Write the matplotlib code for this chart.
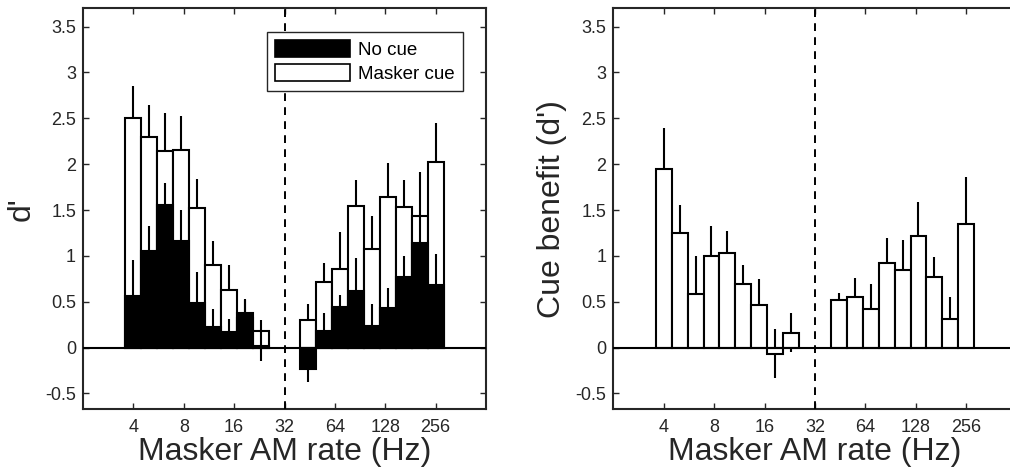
import matplotlib
matplotlib.use('Agg')
import matplotlib.pyplot as plt
import numpy as np
from matplotlib.patches import Patch
from matplotlib.ticker import FixedLocator, FixedFormatter, NullLocator

plt.rcParams['font.family'] = ['Liberation Sans', 'DejaVu Sans']

# ---- data ----
rates = [4.0, 4.98, 6.2, 7.71, 9.6, 11.95, 14.87, 18.51, 23.03,
         44.45, 55.3, 68.8, 85.7, 106.6, 132.7, 165.2, 205.7, 256.0]
cue_d = [2.50, 2.30, 2.14, 2.155, 1.52, 0.905, 0.625, 0.32, 0.18,
         0.30, 0.72, 0.86, 1.54, 1.07, 1.64, 1.53, 1.44, 2.02]
cue_err = [0.35, 0.34, 0.42, 0.37, 0.32, 0.26, 0.28, 0.20, 0.12,
           0.17, 0.20, 0.40, 0.29, 0.37, 0.37, 0.30, 0.47, 0.425]
nocue_d = [0.56, 1.05, 1.56, 1.16, 0.49, 0.225, 0.17, 0.377, 0.02,
           -0.23, 0.18, 0.44, 0.62, 0.236, 0.436, 0.774, 1.145, 0.68]
nocue_err = [0.39, 0.28, 0.23, 0.34, 0.33, 0.20, 0.145, 0.155, 0.166,
             0.145, 0.20, 0.13, 0.36, 0.24, 0.21, 0.225, 0.30, 0.345]
benefit = [1.95, 1.25, 0.585, 1.00, 1.03, 0.69, 0.465, -0.065, 0.164,
           0.516, 0.55, 0.425, 0.92, 0.85, 1.215, 0.77, 0.31, 1.345]
benefit_err = [0.44, 0.30, 0.415, 0.33, 0.24, 0.21, 0.28, 0.27, 0.21,
               0.08, 0.21, 0.27, 0.28, 0.32, 0.375, 0.22, 0.24, 0.515]

xtick_vals = [4, 8, 16, 32, 64, 128, 256]
xtick_labels = ['4', '8', '16', '32', '64', '128', '256']
ytick_vals = [-0.5, 0, 0.5, 1, 1.5, 2, 2.5, 3, 3.5]
ytick_labels = ['-0.5', '0', '0.5', '1', '1.5', '2', '2.5', '3', '3.5']
boundary_rate = 32
legend_labels = ['No cue', 'Masker cue']

# ---- style ----
bar_ratio = 2 ** (6 / 19)          # bar spans this frequency ratio
AX_COL = '#262626'
LW = 1.5

r = np.array(rates)
lefts = r / np.sqrt(bar_ratio)
widths = r * np.sqrt(bar_ratio) - lefts

fig = plt.figure(figsize=(10.10, 4.76), dpi=100)
W, H = 1010, 476
axL = fig.add_axes([83 / W, 1 - 409 / H, 403 / W, 400.7 / H])
axR = fig.add_axes([613.3 / W, 1 - 409 / H, 403.4 / W, 400.7 / H])


def style(ax, ylabel):
    ax.set_xscale('log', base=2)
    ax.set_xlim(2, 512)
    ax.set_ylim(-0.67, 3.70)
    ax.xaxis.set_major_locator(FixedLocator(xtick_vals))
    ax.xaxis.set_major_formatter(FixedFormatter(xtick_labels))
    ax.xaxis.set_minor_locator(NullLocator())
    ax.yaxis.set_major_locator(FixedLocator(ytick_vals))
    ax.yaxis.set_major_formatter(FixedFormatter(ytick_labels))
    ax.tick_params(direction='in', length=4, width=1.0, top=True, right=True,
                   labelsize=13, colors=AX_COL, labelcolor=AX_COL)
    ax.tick_params(axis='x', pad=7)
    ax.tick_params(axis='y', pad=5)
    for s in ax.spines.values():
        s.set_linewidth(1.5)
        s.set_color(AX_COL)
    ax.set_xlabel('Masker AM rate (Hz)', fontsize=23, color=AX_COL, labelpad=1)
    ax.set_ylabel(ylabel, fontsize=23, color=AX_COL, labelpad=6)
    ax.axhline(0, color='black', lw=LW, zorder=6)
    ax.axvline(boundary_rate, color='black', lw=1.4, ls=(0, (4, 3.2)), zorder=6)


# left panel
axL.errorbar(rates, cue_d, yerr=cue_err, fmt='none', ecolor='black',
             elinewidth=LW, capsize=0, zorder=1)
axL.bar(lefts, cue_d, width=widths, align='edge', facecolor='white',
        edgecolor='black', linewidth=LW, zorder=2)
axL.errorbar(rates, nocue_d, yerr=nocue_err, fmt='none', ecolor='black',
             elinewidth=LW, capsize=0, zorder=3)
axL.bar(lefts, nocue_d, width=widths, align='edge', facecolor='black',
        edgecolor='black', linewidth=LW, zorder=4)
style(axL, "d'")

handles = [Patch(facecolor='black', edgecolor='black', linewidth=1.2),
           Patch(facecolor='white', edgecolor='black', linewidth=1.2)]
leg = axL.legend(handles, legend_labels, loc='upper right',
                 bbox_to_anchor=(0.943, 0.9416), borderaxespad=0,
                 fontsize=13.5, fancybox=False, framealpha=1,
                 handlelength=3.95, handleheight=0.98, handletextpad=0.45,
                 labelspacing=0.28, borderpad=0.45)
leg.get_frame().set_edgecolor(AX_COL)
leg.get_frame().set_linewidth(1.0)
leg.set_zorder(10)

# right panel
axR.errorbar(rates, benefit, yerr=benefit_err, fmt='none', ecolor='black',
             elinewidth=LW, capsize=0, zorder=1)
axR.bar(lefts, benefit, width=widths, align='edge', facecolor='white',
        edgecolor='black', linewidth=LW, zorder=2)
style(axR, "Cue benefit (d')")

fig.savefig('out.png', dpi=100)
